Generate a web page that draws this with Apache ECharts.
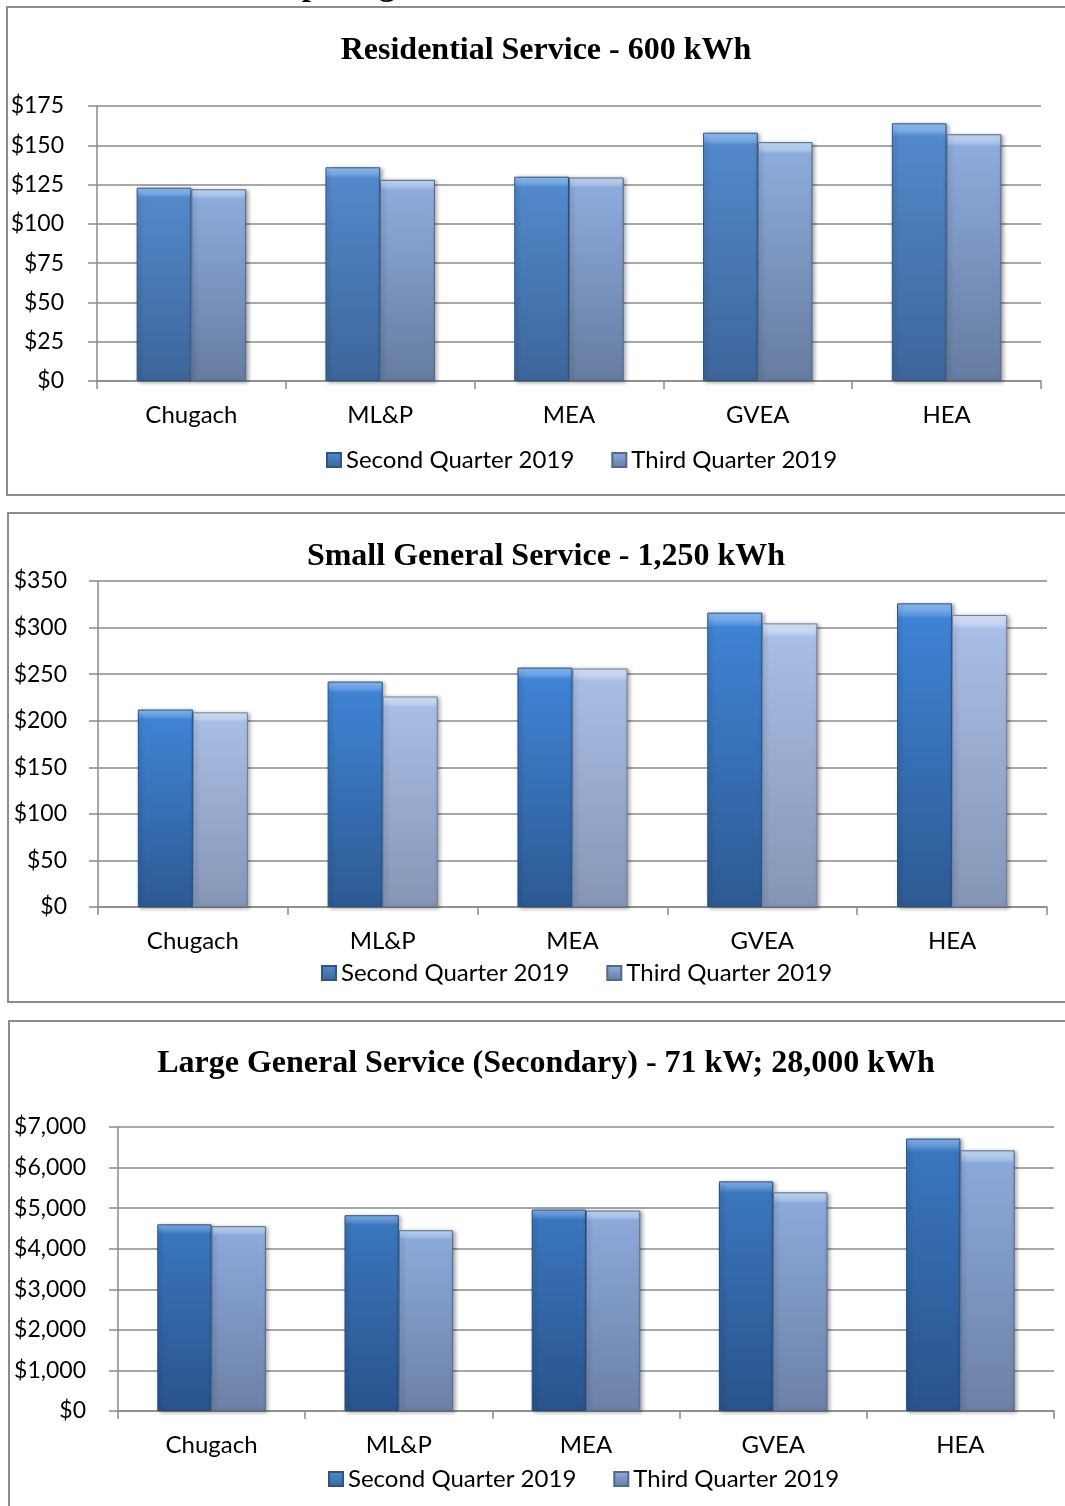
<!DOCTYPE html>
<html>
<head>
<meta charset="utf-8">
<script src="https://cdn.jsdelivr.net/npm/echarts@6/dist/echarts.min.js"></script>
<style>
html,body{margin:0;padding:0;background:#fff;}
#c{width:1065px;height:1506px;}
</style>
</head>
<body>
<div id="c"></div>
<script>
const categories = ['Chugach', 'ML&P', 'MEA', 'GVEA', 'HEA'];
const seriesNames = ['Second Quarter 2019', 'Third Quarter 2019'];
const titles = ['Residential Service - 600 kWh', 'Small General Service - 1,250 kWh', 'Large General Service (Secondary) - 71 kW; 28,000 kWh'];
const pageHeading = 'Comparing Second and Third Quarter 2019';

const residentialQ2 = [123, 136, 130, 158, 164];
const residentialQ3 = [122, 128, 129.5, 152, 157];
const smallGenQ2 = [212, 242, 257, 316, 326];
const smallGenQ3 = [209, 226, 256, 304.5, 313.5];
const largeGenQ2 = [4600, 4825, 4965, 5660, 6715];
const largeGenQ3 = [4555, 4455, 4940, 5390, 6425];

const yMax = [175, 350, 7000];
const yInterval = [25, 50, 1000];

const FONT = 'Lato';
const Y_LABEL_SIZE = 23;
const LABEL_SIZE = 24;

function grad(c0, c1, c2, c3) {
  return new echarts.graphic.LinearGradient(0, 0, 0, 1, [
    {offset: 0, color: c0},
    {offset: 0.035, color: c1},
    {offset: 0.05, color: c2},
    {offset: 1, color: c3}
  ]);
}
const palettes = [
  [grad('#9CC6F4', '#6FA3DF', '#5289CB', '#3D659A'), grad('#D0E2F8', '#A8C2E9', '#8EABDC', '#667C9F')],
  [grad('#95C3F5', '#5F9AE2', '#3F83D4', '#2D5A93'), grad('#E2ECFA', '#BED0EF', '#A9BEE5', '#8595B5')],
  [grad('#8CBAEE', '#548BCE', '#3A76BD', '#2A538C'), grad('#CCDFF7', '#A3BFE8', '#8CA9DA', '#6C81A6')]
];
const borderCols = [['#2F5584', '#52688C'], ['#24528C', '#6E7FA0'], ['#234C80', '#56698E']];

const grids = [
  {left: 97, top: 106, width: 944, height: 275},
  {left: 98, top: 581, width: 949, height: 326},
  {left: 118, top: 1127, width: 936, height: 284}
];
const titleY = [30, 536, 1043];
const legendTop = [443, 956, 1462];
const legendLeft = [321, 316, 323];
const labelMargin = [33, 31, 32];

const dataSets = [[residentialQ2, residentialQ3], [smallGenQ2, smallGenQ3], [largeGenQ2, largeGenQ3]];

function money(v) {
  return '$' + v.toLocaleString('en-US');
}

const axisColor = '#8A8A8A';
const option = {
  animation: false,
  backgroundColor: '#fff',
  textStyle: {fontFamily: FONT},
  title: titles.map((t, i) => ({
    text: t,
    left: 541,
    textAlign: 'center',
    top: titleY[i],
    textStyle: {fontFamily: 'Liberation Serif', fontWeight: 'bold', fontSize: 32, color: '#000'}
  })),
  legend: legendTop.map((t, i) => ({
    data: seriesNames,
    left: legendLeft[i],
    top: t,
    itemWidth: 14,
    itemHeight: 14,
    itemGap: 37,
    icon: 'rect',
    selectedMode: false,
    textStyle: {fontFamily: FONT, fontSize: LABEL_SIZE, color: '#000'}
  })),
  grid: grids,
  xAxis: grids.map((g, i) => ({
    type: 'category',
    gridIndex: i,
    data: categories,
    axisLine: {show: true, lineStyle: {color: axisColor, width: 1.5}},
    axisTick: {show: true, length: 8, lineStyle: {color: axisColor, width: 1.5}},
    axisLabel: {fontFamily: FONT, fontSize: LABEL_SIZE, color: '#000', margin: 22},
    splitLine: {show: false}
  })),
  yAxis: grids.map((g, i) => ({
    type: 'value',
    gridIndex: i,
    min: 0,
    max: yMax[i],
    interval: yInterval[i],
    axisLine: {show: true, lineStyle: {color: axisColor, width: 1.5}},
    axisTick: {show: true, length: 9, lineStyle: {color: axisColor, width: 1.5}},
    axisLabel: {fontFamily: FONT, fontSize: Y_LABEL_SIZE, color: '#000', margin: labelMargin[i], formatter: money},
    splitLine: {show: true, lineStyle: {color: axisColor, width: 1.5}}
  })),
  series: [],
  graphic: [
    {type: 'rect', shape: {x: 7, y: 7, width: 1100, height: 488}, style: {fill: 'none', stroke: '#8C8C8C', lineWidth: 2}, z: -1},
    {type: 'rect', shape: {x: 8, y: 513, width: 1100, height: 489}, style: {fill: 'none', stroke: '#8C8C8C', lineWidth: 2}, z: -1},
    {type: 'rect', shape: {x: 9, y: 1021, width: 1100, height: 520}, style: {fill: 'none', stroke: '#8C8C8C', lineWidth: 2}, z: -1},
    {type: 'text', x: 234, y: 3, z: 10, style: {text: pageHeading, font: 'bold 33px "Liberation Serif"', fill: '#000', verticalAlign: 'bottom'}}
  ]
};

dataSets.forEach((pair, i) => {
  pair.forEach((vals, k) => {
    option.series.push({
      type: 'bar',
      name: seriesNames[k],
      xAxisIndex: i,
      yAxisIndex: i,
      data: vals,
      barGap: '0%',
      barCategoryGap: '42%',
      itemStyle: {
        color: palettes[i][k],
        borderColor: borderCols[i][k],
        borderWidth: 1,
        shadowColor: 'rgba(0,0,0,0.35)',
        shadowBlur: 4,
        shadowOffsetX: 2,
        shadowOffsetY: 1
      }
    });
  });
});

const chart = echarts.init(document.getElementById('c'), null, {renderer: 'canvas'});
chart.setOption(option);
</script>
</body>
</html>
